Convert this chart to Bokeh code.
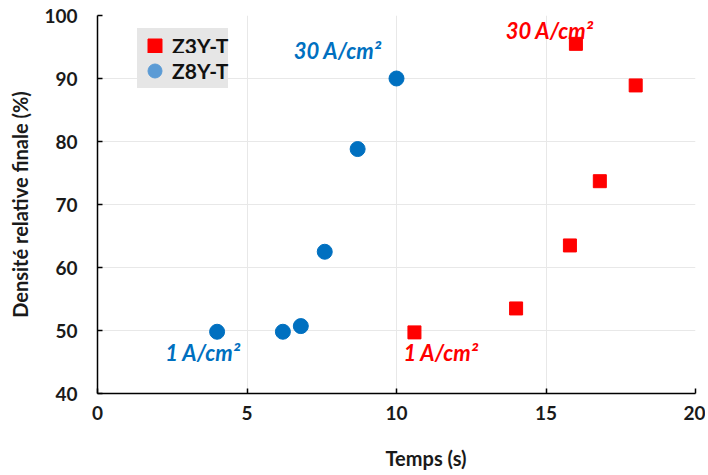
from bokeh.plotting import figure
from bokeh.models import Range1d, Legend, LegendItem, FixedTicker, Label, Title
from bokeh.embed import file_html
from bokeh.resources import INLINE

# Data
z3y_time = [10.6, 14.0, 15.8, 16.0, 16.8, 18.0]
z3y_density = [49.7, 53.5, 63.5, 95.5, 73.7, 88.9]
z8y_time = [4.0, 6.2, 6.8, 7.6, 8.7, 10.0]
z8y_density = [49.8, 49.8, 50.7, 62.5, 78.8, 90.0]
x_ticks = [0, 5, 10, 15, 20]
y_ticks = [40, 50, 60, 70, 80, 90, 100]

FONT = "Lato"
BLUE = "#0070C0"
RED = "#FF0000"
LEG_BG = "#e6e6e6"

p = figure(width=705, height=475, output_backend="svg", toolbar_location=None,
           x_range=Range1d(0, 20), y_range=Range1d(40, 100),
           min_border_left=97, min_border_right=10, min_border_top=15, min_border_bottom=82)
p.outline_line_color = None
p.background_fill_color = "white"

for ax in (p.xaxis[0], p.yaxis[0]):
    ax.axis_line_color = "black"
    ax.axis_line_width = 1.5
    ax.major_tick_line_color = "black"
    ax.major_tick_line_width = 1.5
    ax.major_tick_in = 5
    ax.major_tick_out = 0
    ax.minor_tick_line_color = None
    ax.major_label_text_font = FONT
    ax.major_label_text_font_style = "bold"
    ax.major_label_text_font_size = "19px"
    ax.major_label_text_color = "#1a1a1a"
    ax.axis_label_text_font = FONT
    ax.axis_label_text_font_style = "bold"
    ax.axis_label_text_font_size = "20px"
    ax.axis_label_text_color = "#1a1a1a"

p.xaxis.ticker = FixedTicker(ticks=x_ticks)
p.yaxis.ticker = FixedTicker(ticks=y_ticks)
p.yaxis.axis_label = "Densité relative finale (%)"
p.xaxis.major_label_standoff = 12
p.yaxis.major_label_standoff = 20
p.yaxis.axis_label_standoff = 9

p.xgrid.ticker = FixedTicker(ticks=x_ticks)
p.ygrid.ticker = FixedTicker(ticks=y_ticks)
p.grid.grid_line_color = "#e8e8e8"
p.grid.grid_line_width = 1

r_sq = p.scatter(z3y_time, z3y_density, marker="square", size=13, fill_color=RED, line_color=RED)
r_ci = p.scatter(z8y_time, z8y_density, marker="circle", size=15, fill_color=BLUE, line_color=BLUE)

# Legend proxies (legend circle is a lighter blue)
leg_sq = p.scatter([-10], [0], marker="square", size=14, fill_color=RED, line_color=RED)
leg_ci = p.scatter([-10], [0], marker="circle", size=15, fill_color="#5B9BD5", line_color="#5B9BD5")


def make_legend(label, renderer, loc):
    lg = Legend(items=[LegendItem(label=label, renderers=[renderer])], location=loc)
    lg.background_fill_color = LEG_BG
    lg.background_fill_alpha = 1
    lg.border_line_color = None
    lg.label_text_font = FONT
    lg.label_text_font_style = "bold"
    lg.label_text_font_size = "21px"
    lg.label_text_color = "#111111"
    lg.label_width = 53
    lg.glyph_width = 35
    lg.glyph_height = 35
    lg.padding = 0
    lg.margin = 0
    lg.label_standoff = 0
    return lg


p.add_layout(make_legend("Z3Y-T", leg_sq, (40, 330)), "center")
p.add_layout(make_legend("Z8Y-T", leg_ci, (40, 305)), "center")

ann = [
    ("30 A/cm²", 6.56, 94.4, BLUE),
    ("1 A/cm²", 2.27, 46.5, BLUE),
    ("30 A/cm²", 13.65, 97.6, RED),
    ("1 A/cm²", 10.23, 46.5, RED),
]
for txt, x, y, c in ann:
    p.add_layout(Label(x=x, y=y, text=txt, text_font=FONT, text_font_style="bold italic",
                       text_font_size="22px", text_color=c, text_baseline="middle", text_align="left"))

# spacer between the tick labels and the x-axis title
p.add_layout(Title(text=" ", text_font_size="1px", standoff=17), "below")
# x-axis title (centered on the chart area rather than the plot area, as in the original)
p.add_layout(Title(text="Temps (s)", align="left", offset=288, standoff=2,
                   text_font=FONT, text_font_style="bold", text_font_size="20px",
                   text_color="#1a1a1a"), "below")

open("out.html", "w").write(file_html(p, INLINE))
